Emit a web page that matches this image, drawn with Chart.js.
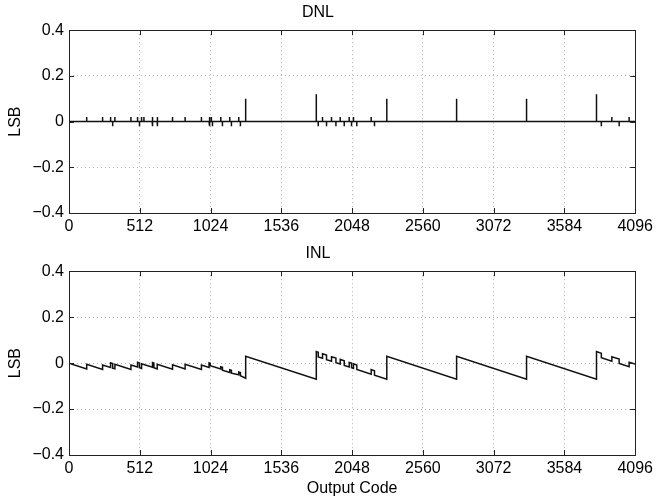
<!DOCTYPE html>
<html>
<head>
<meta charset="utf-8">
<script src="https://cdn.jsdelivr.net/npm/chart.js@4.4.1/dist/chart.umd.min.js"></script>
<style>
  html, body { margin: 0; padding: 0; background: #fff; }
  #wrap { position: relative; width: 657px; height: 500px; }
  #dnlBox { position: absolute; left: 0; top: 0; }
  #inlBox { position: absolute; left: 0; top: 235px; }
</style>
</head>
<body>
<div id="wrap">
  <div id="dnlBox"><canvas id="dnlChart" width="657" height="250"></canvas></div>
  <div id="inlBox"><canvas id="inlChart" width="657" height="265"></canvas></div>
</div>
<script>
// tick labels
const codeTicks = [0, 512, 1024, 1536, 2048, 2560, 3072, 3584, 4096];
const lsbTicks = [-0.4, -0.2, 0, 0.2, 0.4];

// DNL: output codes with a non zero error, and the error (LSB)
const dnlCodes = [128, 243, 301, 316, 332, 448, 496, 510, 525, 542,
  602, 606, 638, 641, 749, 840, 958, 1013, 1020, 1030,
  1038, 1098, 1110, 1163, 1175, 1228, 1240, 1278, 1789, 1803,
  1834, 1863, 1899, 1931, 1962, 1991, 2027, 2044, 2058, 2082,
  2186, 2210, 2299, 2804, 3310, 3816, 3851, 3927, 3980, 4052];
const dnlLsb = [0.02, 0.02, 0.02, -0.02, 0.02, 0.02, 0.02, -0.02, 0.02, 0.02,
  -0.02, 0.02, 0.02, -0.02, 0.02, 0.02, 0.02, 0.02, -0.02, 0.02,
  -0.02, 0.02, -0.02, 0.02, -0.02, 0.02, -0.02, 0.10, 0.12, -0.02,
  0.02, -0.02, 0.02, -0.02, 0.02, -0.02, 0.02, -0.02, 0.02, -0.02,
  0.02, -0.02, 0.10, 0.10, 0.10, 0.12, -0.02, 0.02, -0.02, 0.02];

// INL: corner points of the curve (code, LSB)
const inlCodes = [0,
  128, 128, 243, 243, 301, 301, 316, 316, 332, 332,
  448, 448, 496, 496, 510, 510, 525, 525, 604, 604,
  614, 614, 638, 638, 749, 749, 840, 840, 958, 958,
  1013, 1013, 1022, 1022, 1098, 1098, 1110, 1110, 1163, 1163,
  1175, 1175, 1228, 1228, 1240, 1240, 1278, 1278, 1789, 1789,
  1803, 1803, 1834, 1834, 1863, 1863, 1899, 1899, 1931, 1931,
  1962, 1962, 1991, 1991, 2027, 2027, 2044, 2044, 2058, 2058,
  2082, 2082, 2186, 2186, 2210, 2210, 2299, 2299, 2804, 2804,
  3310, 3310, 3816, 3816, 3851, 3851, 3927, 3927, 3980, 3980,
  4052, 4052, 4095];
const inlLsb = [0,
  -0.025, -0.005, -0.028, -0.008, -0.019, 0.001, -0.002, -0.022, -0.025, -0.005,
  -0.028, -0.008, -0.017, 0.003, 0.0, -0.02, -0.023, -0.003, -0.018, 0.002,
  0.0, -0.02, -0.025, -0.005, -0.027, -0.007, -0.025, -0.005, -0.028, -0.008,
  -0.019, 0.001, -0.001, -0.011, -0.026, -0.016, -0.018, -0.031, -0.041, -0.029,
  -0.031, -0.044, -0.051, -0.039, -0.041, -0.055, -0.066, 0.03, -0.07, 0.05,
  0.047, 0.027, 0.021, 0.041, 0.035, 0.015, 0.008, 0.028, 0.022, 0.002,
  -0.004, 0.016, 0.01, -0.01, -0.017, 0.003, 0.0, -0.02, -0.023, -0.003,
  -0.008, -0.028, -0.048, -0.028, -0.033, -0.053, -0.07, 0.03, -0.07, 0.03,
  -0.07, 0.03, -0.07, 0.05, 0.043, 0.023, 0.008, 0.028, 0.018, -0.002,
  -0.016, 0.004, -0.004];

const FONT = "'Liberation Sans', Arial, Helvetica, sans-serif";

// dnl as vertical sticks on a zero line
let dnlPoints = [{ x: 0, y: 0 }];
for (let i = 0; i < dnlCodes.length; i++) {
  dnlPoints.push({ x: dnlCodes[i], y: 0 });
  dnlPoints.push({ x: dnlCodes[i], y: dnlLsb[i] });
  dnlPoints.push({ x: dnlCodes[i], y: 0 });
}
dnlPoints.push({ x: 4096, y: 0 });

let inlPoints = [];
for (let i = 0; i < inlCodes.length; i++) {
  inlPoints.push({ x: inlCodes[i], y: inlLsb[i] });
}

// matlab style box with inward ticks
const boxPlugin = {
  id: "box",
  afterDraw(chart) {
    const ctx = chart.ctx;
    const a = chart.chartArea;
    const xs = chart.scales.x;
    const ys = chart.scales.y;
    ctx.save();
    ctx.strokeStyle = "#222";
    ctx.lineWidth = 1;
    ctx.beginPath();
    xs.ticks.forEach(function (t) {
      const px = Math.round(xs.getPixelForValue(t.value)) + 0.5;
      ctx.moveTo(px, a.bottom);
      ctx.lineTo(px, a.bottom - 5);
      ctx.moveTo(px, a.top);
      ctx.lineTo(px, a.top + 5);
    });
    ys.ticks.forEach(function (t) {
      const py = Math.round(ys.getPixelForValue(t.value)) + 0.5;
      ctx.moveTo(a.left, py);
      ctx.lineTo(a.left + 5, py);
      ctx.moveTo(a.right, py);
      ctx.lineTo(a.right - 5, py);
    });
    ctx.stroke();
    ctx.strokeRect(Math.round(a.left) + 0.5, Math.round(a.top) + 0.5,
      Math.round(a.right - a.left), Math.round(a.bottom - a.top));
    ctx.restore();
  },
};

function lsbLabel(v) {
  if (Math.abs(v) < 1e-9) return "0";
  const s = Math.abs(v).toFixed(1);
  return v < 0 ? "\u2212" + s : s;
}

function makeChart(id, points, title, cfg) {
  return new Chart(document.getElementById(id), {
    type: "line",
    data: {
      datasets: [{
        data: points,
        borderColor: "#111",
        borderWidth: 1.5,
        pointRadius: 0,
        tension: 0,
        fill: false,
      }],
    },
    options: {
      responsive: false,
      animation: false,
      devicePixelRatio: 1,
      layout: { padding: { left: 0, right: 21, top: 0, bottom: 0 } },
      plugins: {
        legend: { display: false },
        tooltip: { enabled: false },
        title: {
          display: true,
          text: title,
          color: "#000",
          font: { family: FONT, size: 16, weight: "normal" },
          padding: cfg.titlePad,
        },
      },
      scales: {
        x: {
          type: "linear",
          min: 0,
          max: 4096,
          afterBuildTicks: function (s) { s.ticks = codeTicks.map(function (v) { return { value: v }; }); },
          afterFit: function (s) { s.height = cfg.xHeight; },
          ticks: {
            color: "#000",
            font: { family: FONT, size: 16 },
            padding: 4,
            maxRotation: 0,
            autoSkip: false,
            callback: function (v) { return String(v); },
          },
          grid: { color: "#b0b0b0", lineWidth: 1, drawTicks: false },
          border: { display: false, dash: [1, 3] },
          title: {
            display: cfg.xTitle !== "",
            text: cfg.xTitle,
            color: "#000",
            font: { family: FONT, size: 16 },
            padding: { top: 0, bottom: 2 },
          },
        },
        y: {
          type: "linear",
          min: -0.4,
          max: 0.4,
          afterBuildTicks: function (s) { s.ticks = lsbTicks.map(function (v) { return { value: v }; }); },
          afterFit: function (s) { s.width = 69; },
          ticks: {
            color: "#000",
            font: { family: FONT, size: 16 },
            padding: 5,
            callback: function (v) { return lsbLabel(v); },
          },
          grid: { color: "#b0b0b0", lineWidth: 1, drawTicks: false },
          border: { display: false, dash: [1, 3] },
          title: {
            display: true,
            text: "LSB",
            color: "#000",
            font: { family: FONT, size: 16 },
            padding: { top: 6, bottom: 0 },
          },
        },
      },
    },
    plugins: [boxPlugin],
  });
}

makeChart("dnlChart", dnlPoints, "DNL", {
  titlePad: { top: 3, bottom: 8 },
  xHeight: 37,
  xTitle: "",
});

makeChart("inlChart", inlPoints, "INL", {
  titlePad: { top: 9, bottom: 8 },
  xHeight: 45,
  xTitle: "Output Code",
});
</script>
</body>
</html>
